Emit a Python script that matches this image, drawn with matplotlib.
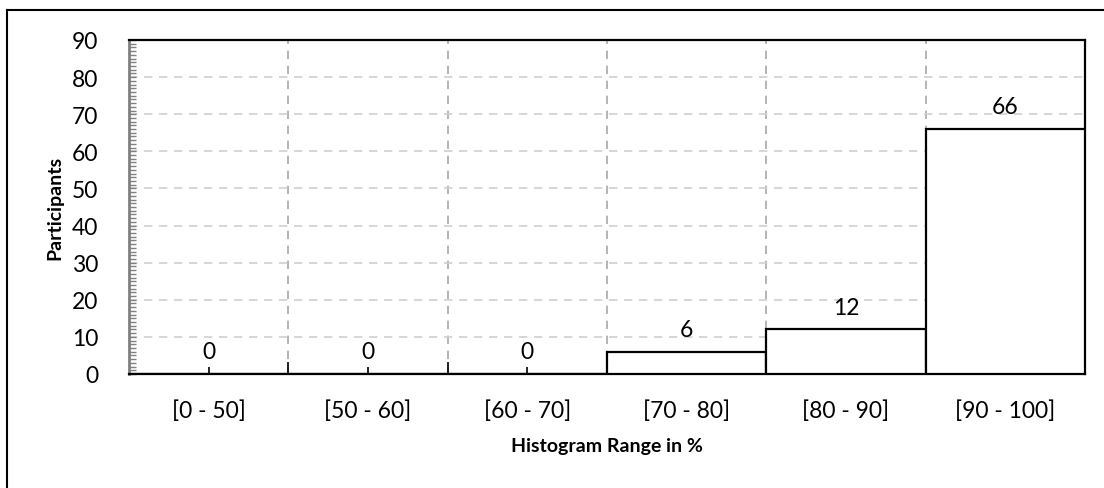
import numpy as np
from matplotlib import pyplot as plt
from matplotlib.lines import Line2D
from matplotlib.ticker import MultipleLocator

categories = ["[0 - 50]", "[50 - 60]", "[60 - 70]", "[70 - 80]", "[80 - 90]", "[90 - 100]"]
participants = [0, 0, 0, 6, 12, 66]

plt.rcParams['font.family'] = ['Lato', 'DejaVu Sans']

fig = plt.figure(figsize=(11.04, 4.89), dpi=100)
ax = fig.add_axes([129/1104, 1 - 375/489, (1085 - 129)/1104, (375 - 41)/489])

x = np.arange(len(categories))
ax.bar(x, participants, width=1.0, color='white', edgecolor='black', linewidth=1.6, zorder=3)

for xi, v in zip(x, participants):
    ax.text(xi, v + 3.2, str(v), ha='center', va='bottom', fontsize=16.5, zorder=4)

ax.set_xlim(-0.5, len(categories) - 0.5)
ax.set_ylim(0, 90)
ax.yaxis.set_major_locator(MultipleLocator(10))
ax.yaxis.set_minor_locator(MultipleLocator(1))
ax.set_xticks(x)
ax.set_xticklabels(categories, fontsize=16.5)
ax.set_xticks(x[:-1] + 0.5, minor=True)
ax.tick_params(axis='y', which='both', direction='in', colors='#808080', labelcolor='black', labelsize=16.5, length=5, width=1, pad=22)
ax.tick_params(axis='x', which='major', direction='in', length=5, width=1.2, pad=18)
ax.tick_params(axis='x', which='minor', direction='in', length=9, width=1.2)

# gridlines
ax.grid(axis='y', which='major', linestyle=(0, (5, 4)), color='#d0d0d0', linewidth=1.2, zorder=0)
ax.grid(axis='x', which='minor', linestyle=(0, (5, 4)), color='#a8a8a8', linewidth=1.2, zorder=0)

ax.spines['left'].set_color('#808080')
ax.spines['left'].set_linewidth(2)
for s in ['top', 'right', 'bottom']:
    ax.spines[s].set_color('black')
    ax.spines[s].set_linewidth(1.6)

ax.set_xlabel("Histogram Range in %", fontsize=14, fontweight='bold', labelpad=12)
ax.set_ylabel("Participants", fontsize=14, fontweight='bold', labelpad=6)

# outer chart border (left and top edges visible)
fig.add_artist(Line2D([7/1104, 7/1104], [0, 1 - 11/489], transform=fig.transFigure, color='black', linewidth=1.5))
fig.add_artist(Line2D([7/1104, 1], [1 - 11/489, 1 - 11/489], transform=fig.transFigure, color='black', linewidth=1.5))

fig.savefig("out.png", dpi=100)
